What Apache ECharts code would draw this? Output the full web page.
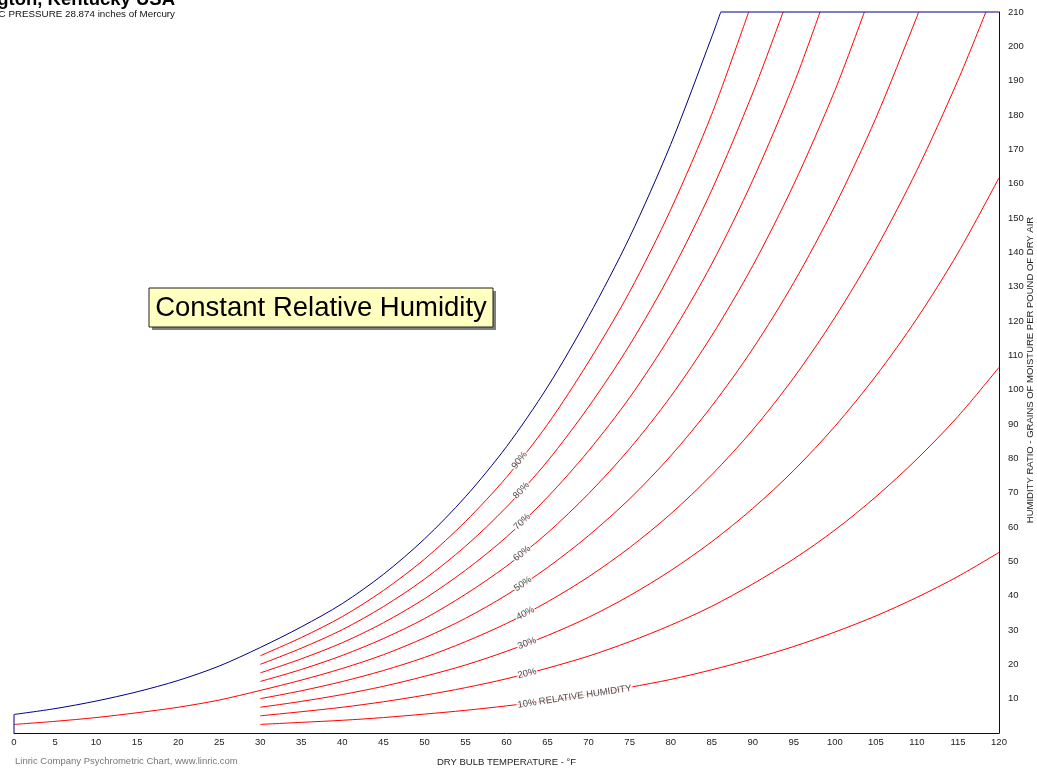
<!DOCTYPE html>
<html>
<head>
<meta charset="utf-8">
<script src="https://cdn.jsdelivr.net/npm/echarts/dist/echarts.min.js"></script>
<style>
  html, body { margin: 0; padding: 0; background: #fff; }
  #chart { width: 1037px; height: 769px; }
</style>
</head>
<body>
<div id="chart"></div>
<script>
// Dry bulb temperatures (°F)
const tLow = [0, 5, 10, 15, 20, 25];
const tMain = [30, 35, 40, 45, 50, 55, 60, 65, 70, 75, 80, 85, 90, 95, 100, 105, 110, 115, 120];

// Humidity ratio, grains of moisture per pound of dry air
const satLow = [5.4, 7.1, 9.3, 12.0, 15.3, 19.5];
const satMain = [24.9, 30.9, 37.7, 46.2, 56.5, 68.8, 83.4, 100.8, 121.3, 144.4, 171.4, 202.7];
const satTopTemp = 86.1;

const rh90 = [22.5, 27.8, 33.9, 41.5, 50.6, 61.6, 74.5, 89.9, 108.1, 128.5, 152.4, 180.2];
const rh80 = [20.0, 24.7, 30.1, 36.8, 44.8, 54.4, 65.8, 79.2, 95.0, 113.0, 133.9, 158.1, 186.4];
const rh70 = [17.5, 21.6, 26.3, 32.1, 39.1, 47.4, 57.1, 68.7, 82.2, 97.7, 115.8, 136.6, 161.0, 189.1];
const rh60 = [15.0, 18.5, 22.6, 27.5, 33.3, 40.4, 48.6, 58.3, 69.7, 82.8, 98.0, 115.7, 136.1, 159.8, 187.1];
const rh50Low = [2.5, 3.4, 4.5, 5.9, 7.5, 9.6];
const rh50 = [12.4, 15.4, 18.8, 22.8, 27.7, 33.4, 40.2, 48.2, 57.5, 68.2, 80.7, 95.2, 111.9, 131.2, 153.5, 179.1, 208.6];
const rh40 = [10.0, 12.3, 15.0, 18.2, 22.0, 26.6, 31.9, 38.2, 45.5, 54.0, 63.8, 75.2, 88.3, 103.5, 121.0, 141.0, 163.9, 190.1];
const rh30 = [7.5, 9.2, 11.2, 13.6, 16.5, 19.8, 23.8, 28.4, 33.7, 40.0, 47.3, 55.7, 65.4, 76.5, 89.3, 104.0, 120.7, 139.8, 161.7];
const rh20 = [5.0, 6.2, 7.5, 9.1, 11.0, 13.2, 15.8, 18.9, 22.4, 26.6, 31.4, 36.9, 43.4, 50.7, 59.1, 68.8, 79.8, 92.2, 106.5];
const rh10 = [2.5, 3.1, 3.7, 4.5, 5.5, 6.6, 7.9, 9.4, 11.2, 13.3, 15.6, 18.4, 21.6, 25.2, 29.4, 34.1, 39.5, 45.6, 52.6];

// Temperature where each curve reaches the 210 grain top of the chart (null = runs to 120 °F)
const rhTopTemp = [89.5, 93.7, 98.2, 103.6, 110.2, 118.4, null, null, null];

// Curve labels
const labelText = ['90%', '80%', '70%', '60%', '50%', '40%', '30%', '20%', '10% RELATIVE HUMIDITY'];
const labelTemp = [61.6, 61.8, 61.9, 61.9, 62.0, 62.3, 62.5, 62.5, 68.3];
const labelAngle = [52, 48, 44, 39, 34, 28, 21, 14, 8.5];

// Axis ticks
const xTicks = [0, 5, 10, 15, 20, 25, 30, 35, 40, 45, 50, 55, 60, 65, 70, 75, 80, 85, 90, 95, 100, 105, 110, 115, 120];
const yTicks = [10, 20, 30, 40, 50, 60, 70, 80, 90, 100, 110, 120, 130, 140, 150, 160, 170, 180, 190, 200, 210];

const TOP = 210;
const FONT = '"Liberation Sans", Arial, Helvetica, sans-serif';

function pairs(temps, vals) {
  return vals.map((v, i) => [temps[i], v]);
}

const rhCurves = [rh90, rh80, rh70, rh60, rh50, rh40, rh30, rh20, rh10];

function curvePoints(idx) {
  let pts = pairs(tMain, rhCurves[idx]);
  if (idx === 4) pts = pairs(tLow, rh50Low).concat(pts);
  if (rhTopTemp[idx] !== null) pts.push([rhTopTemp[idx], TOP]);
  return pts;
}

function interp(pts, x) {
  for (let i = 1; i < pts.length; i++) {
    if (x <= pts[i][0]) {
      const a = pts[i - 1], b = pts[i];
      return a[1] + (b[1] - a[1]) * (x - a[0]) / (b[0] - a[0]);
    }
  }
  return pts[pts.length - 1][1];
}

// Saturation curve (smooth) and the straight chart edges around it
const saturation = pairs(tLow, satLow)
  .concat(pairs(tMain, satMain))
  .concat([[satTopTemp, TOP]]);
const leftEdge = [[0, 0], [0, satLow[0]]];
const topEdge = [[satTopTemp, TOP], [120, TOP]];

const navyLine = { color: '#000080', width: 1 };

const series = [
  { type: 'line', name: 'saturation', data: saturation, smooth: 0.3, symbol: 'none', lineStyle: navyLine, z: 3 },
  { type: 'line', name: 'left edge', data: leftEdge, symbol: 'none', lineStyle: navyLine, z: 3 },
  { type: 'line', name: 'top edge', data: topEdge, symbol: 'none', lineStyle: navyLine, z: 3, clip: false }
];

rhCurves.forEach((_, i) => {
  series.push({
    type: 'line',
    name: labelText[i],
    data: curvePoints(i),
    smooth: 0.3,
    symbol: 'none',
    lineStyle: { color: '#ff0000', width: 1 },
    z: 2
  });
});

series.push({
  type: 'scatter',
  name: 'labels',
  symbolSize: 1,
  itemStyle: { color: 'rgba(0,0,0,0)' },
  z: 6,
  silent: true,
  data: labelText.map((t, i) => ({
    value: [labelTemp[i], interp(curvePoints(i), labelTemp[i])],
    label: {
      show: true,
      position: 'inside',
      formatter: t,
      rotate: labelAngle[i],
      fontSize: 9.5,
      fontFamily: FONT,
      color: '#222',
      backgroundColor: '#fff',
      padding: [0, 1]
    }
  }))
});

const chart = echarts.init(document.getElementById('chart'), null, { renderer: 'canvas' });

chart.setOption({
  animation: false,
  backgroundColor: '#fff',
  grid: { left: 14, right: 38, top: 12, bottom: 36, containLabel: false, outerBoundsMode: 'none' },
  xAxis: {
    type: 'value',
    min: 0, max: 120, interval: 5,
    name: 'DRY BULB TEMPERATURE - °F',
    nameLocation: 'middle',
    nameGap: 24,
    nameTextStyle: { fontSize: 9.5, fontFamily: FONT, color: '#222' },
    axisLine: { show: true, lineStyle: { color: '#000080', width: 1 } },
    axisTick: { show: false },
    splitLine: { show: false },
    axisLabel: {
      fontSize: 9.5, fontFamily: FONT, color: '#222', margin: 4,
      formatter: v => xTicks.includes(v) ? String(v) : ''
    }
  },
  yAxis: {
    type: 'value',
    position: 'right',
    min: 0, max: 210, interval: 10,
    axisLine: { show: true, onZero: false, lineStyle: { color: '#000080', width: 1 } },
    axisTick: { show: false },
    splitLine: { show: false },
    axisLabel: {
      fontSize: 9.5, fontFamily: FONT, color: '#222', margin: 9,
      formatter: v => yTicks.includes(v) ? String(v) : ''
    }
  },
  series: series,
  graphic: [
    {
      type: 'text', x: 1030, y: 370, rotation: Math.PI / 2,
      style: {
        text: 'HUMIDITY RATIO - GRAINS OF MOISTURE PER POUND OF DRY AIR', align: 'center', verticalAlign: 'middle',
        fontSize: 9.5, fontFamily: FONT, fill: '#222'
      }
    },
    {
      type: 'text', x: 175, y: 0,
      style: {
        text: 'Lexington, Kentucky USA', align: 'right', verticalAlign: 'middle',
        fontSize: 18.5, fontWeight: 'bold', fontFamily: FONT, fill: '#000'
      }
    },
    {
      type: 'text', x: 175, y: 14,
      style: {
        text: 'BAROMETRIC PRESSURE 28.874 inches of Mercury', align: 'right', verticalAlign: 'middle',
        fontSize: 9.8, fontFamily: FONT, fill: '#111'
      }
    },
    {
      type: 'text', x: 15, y: 761,
      style: {
        text: 'Linric Company Psychrometric Chart, www.linric.com', align: 'left', verticalAlign: 'middle',
        fontSize: 9.5, fontFamily: FONT, fill: '#777'
      }
    },
    {
      type: 'rect', z: 10,
      shape: { x: 152, y: 291, width: 344, height: 39 },
      style: { fill: '#7f7f7f', stroke: null }
    },
    {
      type: 'rect', z: 11,
      shape: { x: 149, y: 288, width: 344, height: 39 },
      style: { fill: '#ffffc0', stroke: '#222', lineWidth: 1 }
    },
    {
      type: 'text', z: 12, x: 321, y: 308,
      style: {
        text: 'Constant Relative Humidity', align: 'center', verticalAlign: 'middle',
        fontSize: 27.5, fontFamily: FONT, fill: '#000'
      }
    }
  ]
});
</script>
</body>
</html>
